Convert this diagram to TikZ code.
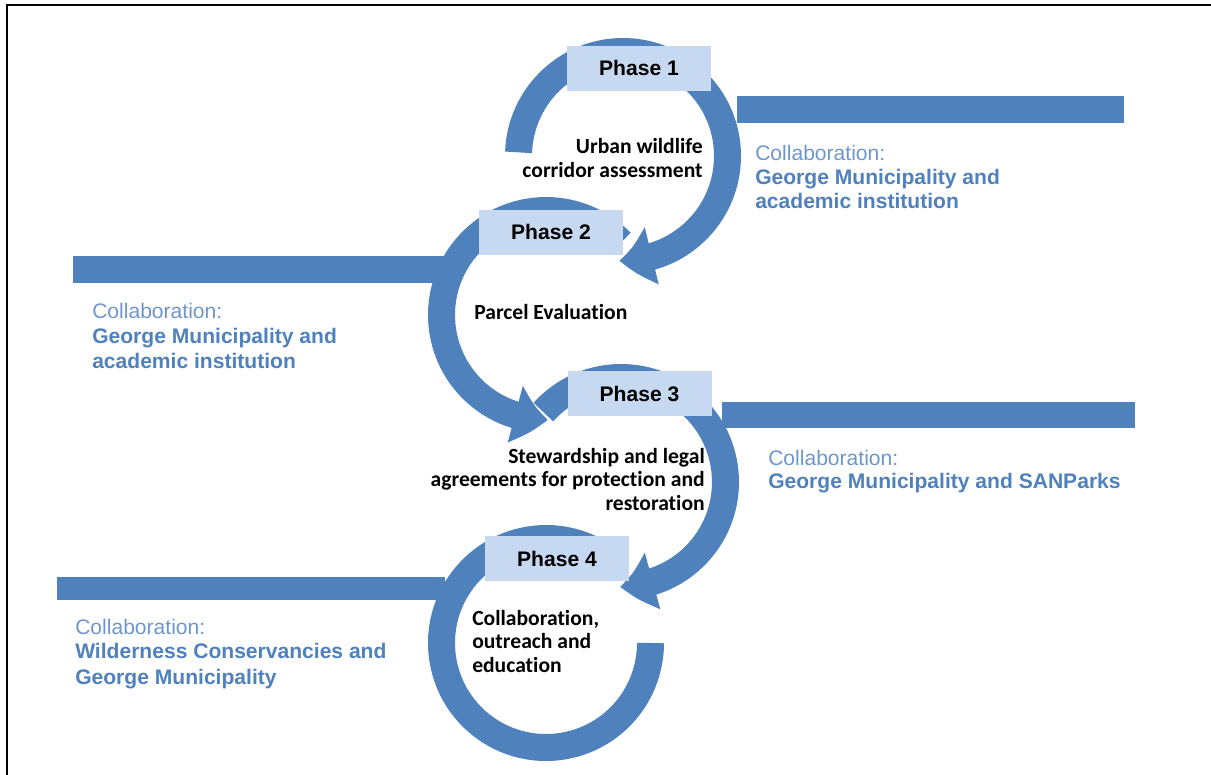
\documentclass[tikz,border=0pt]{standalone}
\usepackage{fontspec}
\newfontfamily\arialfont{Liberation Sans}
\newfontfamily\califont[Ligatures=NoCommon]{Carlito}
\usetikzlibrary{calc,arrows.meta,bending}
\definecolor{ringblue}{HTML}{4F81BD}
\definecolor{boxblue}{HTML}{C6D9F1}
\definecolor{softblue}{HTML}{6F96CC}

\begin{document}
\begin{tikzpicture}[x=0.75pt,y=0.75pt,
  ring/.style={ringblue,line width=20.25pt},
  head/.style={-{Triangle[width=42pt,length=25pt,bend]}},
  phasebox/.style={fill=boxblue,minimum width=108pt,minimum height=33.75pt,inner sep=0pt,
    font=\arialfont\bfseries\fontsize{15.8}{19}\selectfont},
  stage/.style={inner sep=0pt,font=\califont\bfseries\fontsize{16.2}{19}\selectfont},
  lbl/.style={anchor=base west,inner sep=0pt,text=ringblue,
    font=\arialfont\fontsize{15.8}{19}\selectfont},
  lblhead/.style={lbl,text=softblue}]
  \useasboundingbox (0,0) rectangle (1211,-775);
  % frame
  \draw[line width=1.5pt] (1211,-5) -- (7,-5) -- (7,-775);
  % ring centres
  \coordinate (c1) at (623,-156);
  \coordinate (c2) at (546,-315);
  \coordinate (c3) at (621,-482);
  \coordinate (c4) at (546,-643);
  % rings
  \draw[ring,head] ($(c1)+(178:104.5)$) arc[start angle=178,end angle=-92,radius=104.5];
  \draw[ring,head] ($(c2)+(44:104.5)$) arc[start angle=44,end angle=271,radius=104.5];
  \draw[ring,head] ($(c3)+(138:104.5)$) arc[start angle=138,end angle=-90.5,radius=104.5];
  \draw[ring] ($(c4)+(55:104.5)$) arc[start angle=55,end angle=360,radius=104.5];
  % bars
  \fill[ringblue] (737,-96) rectangle (1124,-123);
  \fill[ringblue] (73,-256) rectangle (460,-283);
  \fill[ringblue] (722,-402) rectangle (1135,-428);
  \fill[ringblue] (57,-577) rectangle (445,-600);
  % phase boxes
  \node[phasebox] (ph1) at (639,-68) {Phase 1};
  \node[phasebox] (ph2) at (551,-232) {Phase 2};
  \node[phasebox] (ph3) at (639.5,-393.5) {Phase 3};
  \node[phasebox] (ph4) at (557,-558.5) {Phase 4};
  % stage texts
  \node[stage,anchor=base east] (s1a) at (703,-153) {Urban wildlife};
  \node[stage,anchor=base east] (s1b) at (703,-177) {corridor assessment};
  \node[stage,anchor=base west] (s2) at (474,-319) {Parcel Evaluation};
  \node[stage,anchor=base east] (s3a) at (705,-463) {Stewardship and legal};
  \node[stage,anchor=base east] (s3b) at (705,-486) {agreements for protection and};
  \node[stage,anchor=base east] (s3c) at (705,-510) {restoration};
  \node[stage,anchor=base west] (s4a) at (472,-625) {Collaboration,};
  \node[stage,anchor=base west] (s4b) at (472,-648) {outreach and};
  \node[stage,anchor=base west] (s4c) at (472,-672) {education};
  % collaboration labels
  \node[lblhead] (l1a) at (755,-160) {Collaboration:};
  \node[lbl] (l1b) at (755,-184) {\bfseries George Municipality and};
  \node[lbl] (l1c) at (755,-208) {\bfseries academic institution};
  \node[lblhead] (l2a) at (92,-318) {Collaboration:};
  \node[lbl] (l2b) at (92,-343) {\bfseries George Municipality and};
  \node[lbl] (l2c) at (92,-368) {\bfseries academic institution};
  \node[lblhead] (l3a) at (768,-465) {Collaboration:};
  \node[lbl] (l3b) at (768,-488) {\bfseries George Municipality and SANParks};
  \node[lblhead] (l4a) at (75,-634) {Collaboration:};
  \node[lbl] (l4b) at (75,-658) {\bfseries Wilderness Conservancies and};
  \node[lbl] (l4c) at (75,-684) {\bfseries George Municipality};
\end{tikzpicture}
\end{document}
